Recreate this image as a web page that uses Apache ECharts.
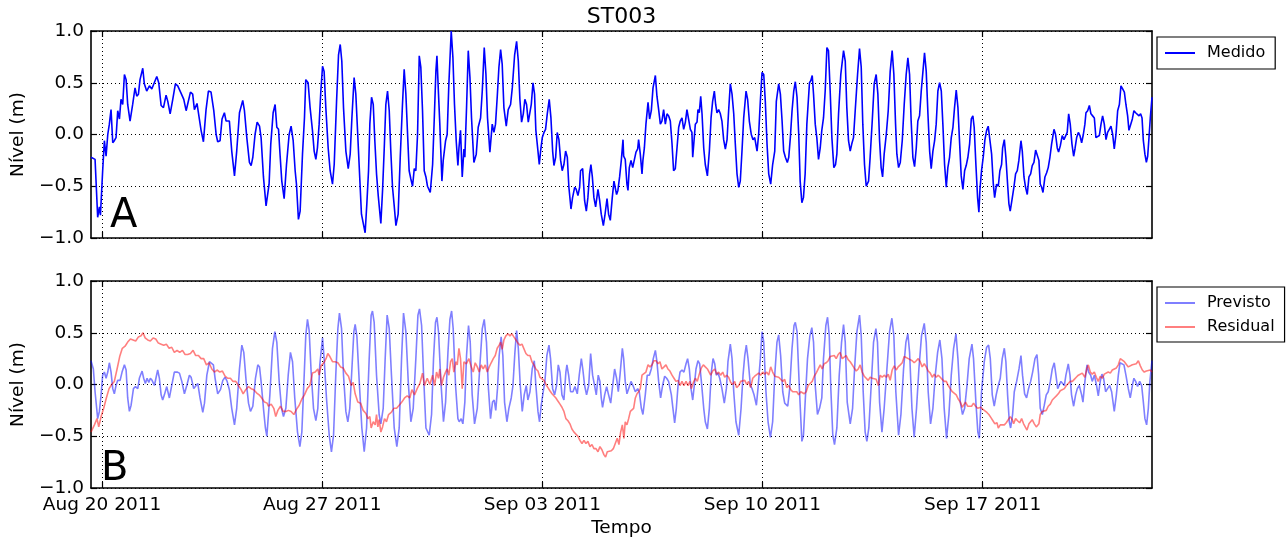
<!DOCTYPE html>
<html><head><meta charset="utf-8">
<script src="https://cdn.jsdelivr.net/npm/echarts@6/dist/echarts.min.js"></script>
<style>html,body{margin:0;padding:0;background:#fff}#c{width:1288px;height:542px}</style>
</head><body><div id="c"></div>
<script>
// time in hours from 2011-08-20 00:00
const xRange = [-8.4, 801.3];
const xTickHours = [0, 168, 336, 504, 672];
const xTickLabels = ['Aug 20 2011', 'Aug 27 2011', 'Sep 03 2011', 'Sep 10 2011', 'Sep 17 2011'];
const yTicks = [-1, -0.5, 0, 0.5, 1];

const medido = [[-8.4,-0.22],[-5.3,-0.24],[-3.3,-0.80],[-2.0,-0.70],[-1.2,-0.78],[0.5,-0.35],[1.8,-0.06],[3.1,-0.21],[4.4,0.00],[5.6,0.10],[6.9,0.24],[8.2,-0.08],[9.4,-0.06],[10.7,-0.03],[12.0,0.23],[13.3,0.15],[14.5,0.34],[15.8,0.29],[17.1,0.58],[18.4,0.53],[19.6,0.29],[21.4,0.13],[23.4,0.29],[25.2,0.45],[26.5,0.37],[27.8,0.39],[29.0,0.53],[31.1,0.64],[32.3,0.49],[34.1,0.42],[36.2,0.47],[38.0,0.44],[39.5,0.43],[41.8,0.56],[43.3,0.50],[45.1,0.28],[46.9,0.26],[48.9,0.38],[50.2,0.32],[52.0,0.20],[54.0,0.34],[56.0,0.49],[57.8,0.47],[60.3,0.40],[62.4,0.34],[64.2,0.23],[65.4,0.24],[67.5,0.41],[69.2,0.39],[70.5,0.24],[72.5,0.30],[73.8,0.31],[75.6,0.04],[77.4,-0.07],[79.4,0.24],[81.2,0.42],[83.2,0.41],[85.3,0.23],[87.1,0.00],[88.3,-0.07],[90.1,-0.06],[91.6,0.15],[93.4,0.21],[94.7,0.13],[96.0,0.12],[97.2,0.13],[99.0,-0.16],[101.1,-0.40],[102.8,-0.16],[104.9,0.21],[107.4,0.33],[108.7,0.23],[110.5,-0.03],[112.5,-0.27],[113.8,-0.30],[115.1,-0.22],[116.8,0.00],[118.4,0.12],[120.2,0.08],[121.4,-0.03],[123.2,-0.41],[125.2,-0.69],[126.3,-0.70],[127.5,-0.48],[128.8,-0.09],[130.6,0.21],[132.1,0.29],[133.4,0.07],[134.7,0.05],[135.7,-0.16],[137.2,-0.45],[139.0,-0.62],[140.8,-0.29],[142.8,0.00],[144.3,0.08],[145.9,-0.06],[147.4,-0.35],[148.4,-0.48],[149.9,-0.82],[151.2,-0.74],[153.0,-0.19],[154.5,0.16],[155.5,0.53],[157.3,0.50],[158.8,0.26],[160.6,0.04],[161.9,-0.16],[163.2,-0.24],[164.4,-0.13],[165.7,0.10],[167.0,0.42],[168.3,0.66],[169.5,0.61],[170.8,0.26],[172.6,-0.13],[174.1,-0.35],[175.9,-0.48],[177.2,-0.29],[179.0,0.32],[180.5,0.77],[181.8,0.87],[183.0,0.71],[184.3,0.26],[186.1,-0.16],[187.9,-0.33],[189.4,-0.19],[190.7,0.16],[192.4,0.55],[193.7,0.39],[195.0,0.04],[196.8,-0.45],[198.0,-0.77],[199.3,-0.78],[200.8,-0.95],[202.1,-0.67],[203.4,-0.35],[204.4,0.10],[205.7,0.36],[207.0,0.29],[208.2,-0.06],[209.5,-0.38],[210.8,-0.59],[211.5,-0.58],[212.8,-0.86],[214.1,-0.54],[215.4,-0.13],[216.6,0.29],[217.9,0.42],[219.2,0.23],[220.4,-0.16],[221.7,-0.51],[223.0,-0.69],[224.3,-0.88],[226.0,-0.77],[227.6,-0.22],[229.3,0.29],[230.6,0.63],[231.9,0.39],[233.2,0.00],[234.4,-0.35],[235.7,-0.43],[237.0,-0.50],[238.3,-0.33],[239.5,-0.35],[240.8,0.00],[242.1,0.76],[243.3,0.65],[244.6,0.23],[245.9,-0.35],[247.2,-0.41],[248.4,-0.50],[249.7,-0.51],[250.5,-0.56],[252.3,-0.29],[253.5,0.13],[254.8,0.61],[255.6,0.76],[256.8,0.39],[257.8,0.10],[259.4,-0.45],[260.4,-0.25],[262.2,-0.06],[263.4,0.00],[264.7,0.49],[266.5,1.00],[267.8,0.74],[269.0,0.29],[270.3,-0.06],[271.6,-0.30],[272.4,-0.13],[273.6,0.04],[274.9,-0.41],[276.2,-0.14],[276.9,-0.22],[278.2,0.26],[279.5,0.81],[280.8,0.55],[282.0,0.16],[283.8,-0.27],[285.6,-0.19],[287.1,0.07],[288.9,0.16],[290.2,0.42],[291.7,0.84],[293.0,0.58],[294.2,0.16],[296.0,-0.17],[297.8,0.10],[299.1,0.02],[300.3,0.10],[301.6,0.36],[302.9,0.65],[304.2,0.82],[305.4,0.68],[306.7,0.26],[308.5,0.08],[310.0,0.24],[311.8,0.29],[313.1,0.45],[314.9,0.77],[316.4,0.90],[317.7,0.71],[318.9,0.34],[320.2,0.12],[321.5,0.20],[322.7,0.34],[324.0,0.29],[325.3,0.12],[326.6,0.13],[327.6,0.29],[328.9,0.50],[330.1,0.39],[331.1,0.04],[332.7,-0.16],[333.7,-0.29],[334.7,-0.16],[336.0,-0.03],[337.3,0.02],[338.5,0.05],[339.8,0.20],[341.3,0.34],[342.6,0.16],[343.9,-0.16],[344.9,-0.30],[346.2,-0.22],[347.4,0.02],[348.7,-0.05],[350.0,-0.25],[351.2,-0.35],[352.5,-0.29],[353.8,-0.16],[355.1,-0.22],[356.3,-0.51],[357.9,-0.72],[359.1,-0.61],[360.7,-0.51],[361.9,-0.53],[363.2,-0.59],[364.5,-0.51],[365.2,-0.35],[366.8,-0.33],[368.3,-0.64],[369.6,-0.74],[370.8,-0.61],[372.1,-0.38],[373.1,-0.29],[374.2,-0.41],[375.4,-0.61],[376.7,-0.70],[378.5,-0.53],[379.8,-0.64],[381.0,-0.77],[382.6,-0.88],[383.8,-0.78],[385.4,-0.62],[386.6,-0.77],[387.9,-0.83],[389.4,-0.61],[390.7,-0.45],[391.7,-0.45],[392.7,-0.58],[393.7,-0.54],[395.0,-0.41],[396.3,-0.25],[397.6,-0.05],[398.1,-0.21],[399.3,-0.24],[400.6,-0.48],[401.4,-0.54],[402.4,-0.32],[403.7,-0.25],[405.0,-0.32],[406.2,-0.32],[407.5,-0.17],[408.8,-0.14],[409.5,-0.05],[410.8,-0.19],[412.1,-0.38],[412.8,-0.25],[413.9,-0.13],[415.1,0.10],[416.7,0.31],[417.9,0.15],[419.2,0.23],[420.5,0.45],[422.3,0.57],[423.5,0.37],[424.8,0.24],[426.1,0.10],[427.3,0.13],[428.6,0.24],[429.9,0.10],[431.2,0.20],[432.4,0.18],[433.7,0.13],[435.0,-0.09],[436.2,-0.35],[437.5,-0.33],[438.8,-0.13],[440.1,0.07],[441.3,0.13],[442.6,0.16],[443.9,0.05],[445.2,0.12],[446.4,0.24],[447.7,0.23],[449.0,0.05],[450.2,0.02],[450.8,-0.22],[451.8,-0.21],[452.8,0.10],[454.1,0.12],[454.8,0.24],[455.8,0.21],[456.9,0.37],[457.9,0.20],[459.2,-0.13],[460.4,-0.29],[462.0,-0.40],[463.5,-0.16],[464.8,0.16],[466.0,0.32],[467.3,0.42],[468.3,0.29],[469.3,0.21],[470.6,0.24],[471.9,0.20],[473.1,0.13],[474.4,-0.05],[475.7,-0.14],[477.0,-0.05],[478.2,0.23],[479.5,0.49],[480.8,0.39],[482.1,0.20],[483.3,-0.09],[484.6,-0.38],[485.9,-0.51],[487.1,-0.45],[488.4,-0.16],[489.7,0.16],[491.5,0.42],[492.7,0.34],[494.0,0.13],[495.5,0.00],[496.8,-0.05],[498.1,-0.03],[499.9,-0.16],[501.1,0.00],[502.4,0.32],[503.7,0.60],[505.0,0.58],[506.2,0.32],[507.5,-0.09],[508.8,-0.38],[510.3,-0.48],[511.8,-0.29],[513.4,-0.16],[514.6,0.32],[516.4,0.49],[517.7,0.39],[519.0,0.13],[520.2,-0.16],[521.5,-0.22],[523.0,-0.27],[524.1,-0.22],[525.3,-0.03],[526.6,0.23],[527.9,0.42],[529.1,0.51],[530.4,0.36],[531.7,0.00],[532.8,-0.45],[534.1,-0.66],[535.3,-0.61],[536.6,-0.38],[537.9,0.10],[539.9,0.50],[540.9,0.52],[542.0,0.57],[543.0,0.39],[544.3,0.10],[545.5,-0.03],[546.8,-0.24],[548.1,-0.13],[549.3,0.04],[550.6,0.16],[551.9,0.42],[553.2,0.84],[554.4,0.81],[555.7,0.42],[557.0,-0.03],[558.5,-0.32],[559.8,-0.29],[560.8,-0.19],[562.1,0.20],[563.8,0.58],[565.9,0.81],[567.2,0.71],[568.4,0.26],[569.7,-0.06],[571.0,-0.16],[572.2,-0.09],[573.5,-0.03],[574.8,0.23],[576.6,0.58],[578.1,0.83],[579.4,0.65],[580.6,0.10],[581.9,-0.29],[583.2,-0.50],[585.0,-0.45],[586.2,-0.22],[587.8,0.13],[589.3,0.49],[590.8,0.58],[592.1,0.39],[593.4,-0.06],[594.6,-0.32],[595.7,-0.41],[596.9,-0.19],[598.5,0.00],[600.0,0.23],[601.5,0.61],[603.0,0.81],[604.3,0.58],[605.6,0.10],[606.6,-0.19],[607.9,-0.32],[609.2,-0.27],[610.7,-0.06],[612.2,0.29],[613.7,0.58],[615.0,0.74],[616.3,0.58],[617.5,0.13],[618.8,-0.22],[620.1,-0.31],[621.4,-0.13],[622.6,0.13],[623.9,0.18],[625.2,0.42],[626.5,0.61],[627.7,0.79],[629.0,0.61],[630.3,0.20],[631.6,-0.16],[632.8,-0.33],[634.1,-0.16],[635.4,-0.06],[636.6,0.10],[637.9,0.42],[639.2,0.50],[640.5,0.42],[641.7,0.10],[643.0,-0.29],[644.3,-0.51],[645.5,-0.32],[646.8,-0.22],[648.1,-0.03],[649.4,0.07],[650.6,0.26],[651.9,0.43],[653.2,0.26],[654.5,-0.09],[655.7,-0.40],[657.0,-0.53],[658.3,-0.35],[659.5,-0.30],[660.8,-0.22],[662.1,-0.09],[663.4,0.15],[664.6,0.18],[665.6,0.07],[666.9,-0.29],[668.2,-0.61],[669.2,-0.75],[670.0,-0.53],[671.2,-0.35],[672.5,-0.22],[673.8,-0.05],[675.1,0.04],[676.3,0.08],[677.6,0.09],[678.9,-0.19],[680.2,-0.48],[681.2,-0.61],[682.7,-0.48],[684.0,-0.50],[685.2,-0.35],[686.5,-0.29],[687.3,-0.13],[688.6,-0.05],[689.8,-0.22],[691.1,-0.48],[692.1,-0.67],[693.1,-0.74],[694.7,-0.61],[695.9,-0.51],[697.2,-0.38],[698.5,-0.35],[699.7,-0.25],[701.3,-0.06],[702.3,-0.16],[703.6,-0.41],[704.8,-0.51],[706.1,-0.58],[707.4,-0.41],[708.7,-0.38],[709.9,-0.30],[711.2,-0.27],[712.5,-0.15],[713.7,-0.16],[715.0,-0.25],[716.0,-0.48],[717.1,-0.51],[718.1,-0.56],[719.6,-0.41],[720.9,-0.37],[722.1,-0.32],[723.4,-0.22],[724.7,-0.09],[726.5,0.05],[727.7,0.00],[729.0,-0.13],[730.0,-0.17],[731.3,-0.11],[732.8,-0.01],[734.1,-0.05],[735.6,-0.05],[736.6,0.02],[737.7,0.20],[738.9,0.10],[740.2,-0.09],[741.5,-0.21],[742.5,-0.14],[743.8,-0.03],[745.1,0.02],[746.3,-0.01],[747.6,-0.08],[748.9,0.00],[750.1,0.10],[750.9,0.21],[752.2,0.23],[753.5,0.28],[754.7,0.20],[756.0,0.18],[757.3,0.16],[758.5,-0.03],[759.8,-0.03],[761.1,-0.01],[762.4,0.10],[763.6,0.18],[764.9,0.10],[766.2,-0.05],[767.4,0.02],[768.7,0.05],[770.0,0.08],[771.3,0.00],[772.5,-0.14],[773.8,0.00],[775.1,0.23],[776.4,0.29],[777.6,0.47],[778.9,0.44],[780.2,0.41],[781.4,0.29],[782.7,0.18],[783.7,0.04],[785.0,0.03],[786.3,0.15],[787.5,0.23],[788.8,0.21],[790.1,0.21],[791.4,0.18],[792.6,0.20],[793.7,0.16],[794.7,-0.06],[795.9,-0.19],[797.0,-0.27],[798.0,-0.21],[799.0,-0.03],[800.0,0.16],[801.3,0.36]];

const previsto = [[-8.4,0.23],[-6.6,0.15],[-5.3,-0.07],[-3.3,-0.33],[-2.0,-0.26],[-0.7,-0.10],[0.5,0.09],[1.8,0.12],[3.1,0.06],[4.4,0.12],[5.6,0.21],[6.9,0.12],[8.2,-0.04],[9.4,-0.09],[10.7,-0.01],[12.0,0.04],[13.8,0.04],[15.3,0.12],[17.1,0.19],[18.4,0.14],[19.6,-0.13],[20.9,-0.26],[22.2,-0.20],[24.0,-0.04],[25.5,-0.02],[27.3,-0.04],[28.5,0.06],[30.6,0.13],[31.8,0.06],[33.1,0.01],[34.4,0.06],[35.7,0.02],[36.9,0.06],[38.2,0.04],[40.0,-0.01],[41.3,0.07],[42.5,0.14],[43.8,0.06],[45.1,-0.10],[46.3,-0.15],[47.6,-0.10],[49.4,-0.02],[51.4,-0.13],[53.2,-0.01],[55.2,0.12],[57.3,0.12],[59.1,0.11],[60.9,0.03],[62.9,-0.09],[64.7,-0.01],[66.7,0.09],[68.0,0.07],[70.0,-0.04],[71.8,-0.01],[73.1,0.01],[74.8,-0.13],[76.9,-0.27],[78.2,-0.18],[80.0,0.09],[82.0,0.22],[83.2,0.23],[85.0,0.19],[86.3,0.06],[88.3,-0.09],[90.4,-0.05],[92.2,0.04],[93.9,0.07],[95.5,0.03],[97.2,-0.05],[99.0,-0.23],[101.1,-0.39],[102.8,-0.23],[104.9,0.15],[106.7,0.38],[108.2,0.31],[110.0,0.03],[111.8,-0.18],[113.3,-0.26],[115.1,-0.21],[117.1,0.06],[118.9,0.19],[120.2,0.17],[121.4,0.03],[123.2,-0.23],[124.7,-0.42],[125.8,-0.50],[128.1,-0.10],[130.1,0.35],[131.9,0.51],[133.4,0.41],[135.2,0.03],[137.0,-0.23],[138.5,-0.31],[140.3,-0.23],[142.1,0.09],[143.8,0.31],[145.4,0.22],[147.1,-0.13],[149.2,-0.46],[151.0,-0.60],[152.5,-0.46],[154.3,0.09],[155.5,0.47],[156.8,0.63],[158.1,0.52],[159.6,0.12],[161.4,-0.23],[163.2,-0.35],[164.7,-0.23],[166.2,0.19],[168.3,0.45],[169.5,0.25],[171.3,-0.13],[173.4,-0.49],[175.1,-0.65],[176.7,-0.49],[178.4,0.09],[180.0,0.54],[181.2,0.69],[182.8,0.54],[184.3,0.09],[186.1,-0.26],[187.6,-0.36],[189.1,-0.23],[190.7,0.15],[192.2,0.51],[193.2,0.58],[194.5,0.47],[196.3,0.03],[198.3,-0.42],[200.1,-0.65],[201.9,-0.42],[203.9,0.25],[205.4,0.67],[206.4,0.71],[207.7,0.60],[209.5,0.09],[211.5,-0.29],[212.8,-0.38],[214.6,-0.23],[216.1,0.25],[217.6,0.67],[219.2,0.54],[220.9,0.09],[223.0,-0.42],[225.0,-0.60],[226.8,-0.42],[228.6,0.25],[230.1,0.69],[231.9,0.51],[233.7,0.03],[235.7,-0.36],[237.5,-0.23],[239.5,0.25],[241.1,0.67],[242.3,0.73],[243.9,0.57],[245.4,0.09],[247.2,-0.42],[249.7,-0.49],[251.5,-0.29],[253.0,0.25],[254.5,0.60],[255.6,0.65],[256.8,0.51],[258.6,0.03],[260.6,-0.36],[262.2,-0.17],[264.0,0.31],[265.5,0.63],[266.8,0.71],[268.0,0.54],[269.8,-0.01],[271.6,-0.33],[272.6,-0.36],[274.1,-0.33],[275.4,-0.38],[276.9,-0.17],[278.2,0.28],[279.7,0.57],[281.0,0.41],[282.5,-0.10],[284.3,-0.38],[286.4,-0.23],[288.2,0.15],[290.2,0.54],[291.7,0.63],[293.4,0.41],[294.9,-0.04],[296.5,-0.33],[298.0,-0.17],[299.3,-0.15],[300.5,-0.25],[301.8,-0.04],[303.1,0.28],[304.6,0.46],[305.9,0.28],[307.2,-0.17],[309.0,-0.36],[310.5,-0.23],[312.3,-0.13],[313.6,-0.01],[315.1,0.31],[316.4,0.52],[317.7,0.35],[319.2,-0.01],[320.7,-0.26],[322.2,-0.10],[323.8,-0.01],[325.0,-0.15],[326.6,-0.07],[328.3,0.15],[329.9,0.23],[331.1,-0.01],[332.7,-0.26],[333.9,-0.36],[335.2,-0.20],[336.7,-0.07],[338.0,0.03],[339.5,0.28],[341.1,0.38],[342.3,0.25],[343.9,-0.04],[345.4,-0.10],[346.9,-0.01],[348.2,0.19],[349.5,0.12],[351.0,-0.10],[352.5,-0.15],[354.0,0.12],[354.8,0.19],[356.1,0.09],[357.6,-0.07],[359.4,-0.07],[360.9,-0.02],[362.7,-0.09],[364.2,0.09],[365.8,0.25],[367.0,0.14],[368.3,-0.01],[369.8,-0.10],[371.4,-0.01],[372.9,0.30],[374.4,0.09],[375.9,-0.01],[377.2,-0.10],[378.7,0.09],[380.0,0.03],[381.0,-0.13],[382.0,-0.22],[383.6,-0.10],[385.1,-0.02],[386.6,-0.10],[388.2,-0.18],[389.7,-0.01],[391.2,0.15],[392.7,0.06],[394.0,-0.07],[395.3,0.09],[397.1,0.35],[398.1,0.25],[399.3,0.03],[400.6,-0.09],[401.9,-0.04],[403.7,0.03],[405.2,-0.01],[407.0,-0.07],[408.8,-0.04],[410.0,-0.07],[411.6,-0.23],[412.8,-0.29],[414.6,-0.10],[416.1,0.09],[417.7,0.09],[419.2,0.15],[420.7,0.25],[422.3,0.33],[423.5,0.22],[424.8,0.03],[426.3,-0.13],[427.8,-0.01],[429.4,0.08],[430.9,0.06],[432.4,0.03],[434.5,-0.10],[435.7,-0.23],[437.0,-0.37],[438.3,-0.23],[439.6,-0.01],[441.1,0.12],[442.6,0.14],[444.1,0.12],[445.7,0.20],[446.9,0.25],[448.2,0.15],[449.5,-0.04],[450.8,-0.15],[452.0,-0.01],[453.3,0.15],[454.8,0.23],[456.1,0.20],[457.4,0.03],[459.2,-0.23],[460.4,-0.36],[462.0,-0.43],[463.5,-0.23],[465.0,0.12],[466.3,0.25],[467.6,0.20],[468.8,0.09],[470.1,0.11],[471.4,0.06],[473.1,-0.04],[474.9,-0.18],[476.5,-0.04],[477.7,0.22],[479.5,0.39],[480.8,0.25],[482.1,-0.07],[483.8,-0.36],[485.9,-0.49],[487.7,-0.23],[489.2,0.09],[490.5,0.28],[491.7,0.38],[493.0,0.25],[494.8,-0.01],[496.1,-0.04],[497.6,-0.10],[499.4,-0.20],[500.6,-0.04],[502.4,0.25],[503.7,0.51],[505.0,0.41],[506.7,-0.07],[508.3,-0.36],[510.1,-0.51],[511.8,-0.36],[513.4,0.09],[515.1,0.41],[516.4,0.48],[517.9,0.28],[519.5,-0.07],[521.0,-0.18],[523.3,-0.21],[524.8,-0.04],[526.6,0.35],[528.1,0.57],[529.1,0.60],[530.4,0.51],[532.2,-0.04],[534.1,-0.55],[535.3,-0.49],[536.6,-0.17],[538.4,0.25],[540.2,0.47],[541.7,0.55],[543.0,0.41],[544.3,-0.01],[546.0,-0.29],[547.6,-0.23],[549.3,-0.13],[550.6,0.25],[552.4,0.57],[553.7,0.65],[555.0,0.47],[556.2,-0.04],[557.7,-0.49],[559.0,-0.58],[560.8,-0.42],[562.6,0.09],[564.4,0.41],[565.9,0.58],[567.2,0.41],[568.7,-0.17],[571.0,-0.38],[572.8,-0.23],[574.3,0.15],[576.1,0.51],[578.1,0.67],[579.4,0.47],[580.9,-0.07],[582.4,-0.46],[583.7,-0.55],[585.2,-0.42],[587.0,-0.01],[588.8,0.41],[590.6,0.54],[591.8,0.41],[593.4,-0.17],[595.2,-0.46],[596.9,-0.23],[599.0,0.15],[601.0,0.51],[602.8,0.64],[604.3,0.47],[605.8,-0.07],[607.9,-0.49],[609.7,-0.29],[611.7,0.15],[613.5,0.41],[615.0,0.49],[616.3,0.31],[618.1,-0.23],[619.8,-0.51],[621.6,-0.23],[623.4,0.15],[625.4,0.47],[627.5,0.59],[629.0,0.41],[630.5,-0.07],[632.3,-0.38],[634.1,-0.23],[635.9,0.09],[637.7,0.31],[639.4,0.43],[641.0,0.25],[642.7,-0.23],[644.5,-0.52],[646.3,-0.29],[648.1,0.09],[649.9,0.35],[651.7,0.49],[653.2,0.25],[655.0,-0.17],[656.7,-0.29],[658.3,-0.23],[660.1,-0.01],[661.8,0.25],[663.9,0.39],[665.1,0.25],[666.9,-0.17],[668.4,-0.46],[669.5,-0.52],[671.2,-0.07],[673.3,0.22],[675.1,0.36],[676.6,0.38],[677.9,0.25],[679.4,-0.10],[680.9,-0.21],[682.4,-0.10],[684.0,-0.01],[685.5,0.06],[687.0,0.25],[688.6,0.35],[689.8,0.22],[691.1,-0.10],[692.4,-0.36],[693.4,-0.42],[694.9,-0.29],[696.2,-0.07],[698.0,0.03],[699.8,0.15],[701.3,0.28],[702.5,0.09],[704.1,-0.09],[705.6,-0.13],[707.1,-0.04],[708.7,0.03],[710.2,0.12],[712.0,0.25],[713.5,0.29],[714.8,0.09],[716.0,-0.23],[717.6,-0.29],[719.1,-0.20],[720.6,-0.10],[722.1,-0.07],[723.7,0.03],[725.2,0.15],[726.7,0.21],[728.0,0.09],[729.3,-0.04],[730.5,-0.04],[731.8,0.03],[733.1,0.03],[734.4,-0.01],[735.6,0.09],[737.4,0.20],[738.7,0.09],[739.9,-0.10],[741.5,-0.21],[743.0,-0.10],[744.3,-0.04],[745.8,-0.01],[747.6,-0.10],[748.6,-0.17],[750.1,0.03],[751.7,0.19],[752.9,0.12],[754.5,0.09],[755.7,0.03],[757.3,0.09],[759.0,-0.01],[760.3,-0.11],[761.8,0.03],[763.1,0.10],[764.4,0.06],[765.9,-0.07],[767.4,-0.04],[769.0,-0.01],[770.5,-0.07],[772.5,-0.26],[774.1,-0.10],[775.6,0.09],[776.9,0.21],[778.1,0.20],[779.9,0.19],[781.4,0.09],[783.2,-0.04],[784.7,-0.13],[786.3,-0.01],[787.5,0.06],[788.8,0.03],[790.3,-0.02],[791.9,0.03],[793.4,-0.01],[794.7,-0.17],[795.9,-0.33],[797.2,-0.39],[798.5,-0.23],[799.7,0.03],[801.3,0.23]];

const residual = [[-8.4,-0.46],[-5.8,-0.39],[-3.8,-0.33],[-2.5,-0.41],[-0.7,-0.31],[1.3,-0.23],[3.3,-0.13],[5.4,-0.04],[7.4,0.00],[9.4,0.03],[11.5,0.15],[13.5,0.27],[15.5,0.35],[17.6,0.37],[19.6,0.41],[21.7,0.44],[23.7,0.43],[25.7,0.42],[27.8,0.46],[29.8,0.47],[31.3,0.50],[32.9,0.45],[34.9,0.43],[36.9,0.42],[39.0,0.45],[41.0,0.44],[43.0,0.40],[45.1,0.39],[47.1,0.38],[49.1,0.39],[51.2,0.35],[53.2,0.36],[55.2,0.31],[57.3,0.33],[59.3,0.31],[61.4,0.33],[63.4,0.29],[65.4,0.29],[67.5,0.30],[69.5,0.33],[71.5,0.28],[73.6,0.28],[75.6,0.25],[77.6,0.25],[79.7,0.19],[81.7,0.21],[83.8,0.15],[85.8,0.12],[87.8,0.14],[89.9,0.12],[91.9,0.13],[93.9,0.08],[96.0,0.06],[98.0,0.06],[100.0,0.03],[102.1,0.03],[104.1,-0.01],[106.2,-0.05],[107.7,-0.09],[109.7,-0.05],[111.8,-0.02],[113.8,-0.04],[115.8,-0.05],[117.9,-0.08],[119.9,-0.10],[121.9,-0.13],[124.0,-0.17],[126.0,-0.18],[127.0,-0.21],[129.1,-0.19],[131.1,-0.23],[132.6,-0.31],[134.2,-0.25],[136.2,-0.21],[138.2,-0.26],[140.3,-0.26],[142.3,-0.25],[144.3,-0.26],[146.4,-0.29],[148.4,-0.24],[150.5,-0.20],[152.5,-0.14],[154.5,-0.10],[156.6,-0.04],[158.6,-0.01],[160.6,0.11],[162.7,0.12],[164.7,0.15],[165.7,0.09],[167.2,0.18],[169.3,0.21],[171.3,0.26],[172.3,0.30],[173.9,0.27],[175.9,0.22],[177.9,0.22],[180.0,0.21],[182.0,0.17],[184.0,0.16],[186.1,0.11],[188.1,0.08],[190.2,-0.01],[191.7,0.02],[193.2,-0.09],[195.2,-0.17],[197.3,-0.18],[199.3,-0.25],[201.4,-0.28],[202.9,-0.33],[204.4,-0.31],[205.4,-0.42],[207.0,-0.36],[208.5,-0.39],[209.5,-0.29],[210.5,-0.41],[211.5,-0.34],[212.8,-0.46],[214.1,-0.41],[215.6,-0.33],[217.1,-0.36],[218.7,-0.29],[220.7,-0.27],[222.7,-0.23],[224.8,-0.23],[226.8,-0.20],[228.8,-0.17],[230.9,-0.13],[232.9,-0.11],[234.9,-0.13],[236.5,-0.05],[238.5,-0.10],[240.5,-0.04],[242.6,0.01],[244.6,0.11],[246.1,-0.01],[248.2,0.06],[250.2,0.00],[252.3,0.09],[253.8,-0.01],[255.3,0.12],[256.8,0.06],[257.8,0.15],[259.1,-0.01],[260.6,0.07],[262.2,0.12],[263.4,0.15],[264.7,0.09],[266.0,0.22],[267.3,0.25],[268.5,0.12],[270.1,0.22],[271.1,0.19],[272.4,0.35],[273.6,0.25],[274.9,-0.04],[276.2,0.22],[278.0,0.20],[280.0,0.25],[281.8,0.17],[283.3,0.12],[284.8,0.21],[286.4,0.17],[287.9,0.12],[289.4,0.19],[290.9,0.15],[292.5,0.19],[294.0,0.12],[295.5,0.17],[297.0,0.21],[298.6,0.25],[300.1,0.28],[301.6,0.35],[303.1,0.38],[304.2,0.41],[305.4,0.34],[306.7,0.43],[308.2,0.47],[309.8,0.49],[311.3,0.47],[312.8,0.49],[314.3,0.46],[315.9,0.43],[317.4,0.40],[318.9,0.38],[320.5,0.39],[322.0,0.38],[323.5,0.30],[325.0,0.28],[326.6,0.28],[328.1,0.22],[329.6,0.19],[331.1,0.15],[332.7,0.13],[334.2,0.07],[335.7,0.07],[337.3,0.04],[338.8,0.00],[340.3,-0.03],[341.8,-0.06],[343.4,-0.09],[344.9,-0.09],[346.4,-0.13],[347.9,-0.16],[349.5,-0.19],[351.0,-0.22],[352.5,-0.26],[354.0,-0.33],[355.6,-0.35],[357.1,-0.38],[358.6,-0.43],[360.2,-0.46],[361.7,-0.46],[363.2,-0.50],[364.7,-0.54],[366.3,-0.57],[367.8,-0.54],[369.3,-0.57],[370.8,-0.55],[372.4,-0.60],[373.9,-0.58],[375.4,-0.62],[377.0,-0.62],[378.5,-0.65],[380.0,-0.60],[381.5,-0.63],[383.1,-0.68],[384.3,-0.70],[385.6,-0.65],[387.1,-0.66],[388.7,-0.64],[390.2,-0.62],[391.7,-0.57],[393.2,-0.52],[394.5,-0.58],[395.8,-0.46],[397.1,-0.39],[398.3,-0.52],[399.3,-0.36],[400.6,-0.39],[401.9,-0.33],[403.2,-0.26],[404.4,-0.26],[405.7,-0.23],[407.0,-0.13],[408.3,-0.09],[409.5,-0.07],[410.8,-0.04],[412.1,0.09],[413.6,0.09],[415.1,0.12],[416.7,0.19],[418.2,0.17],[419.7,0.19],[421.2,0.23],[422.8,0.23],[424.3,0.20],[425.8,0.22],[427.3,0.15],[428.9,0.17],[430.4,0.19],[431.9,0.15],[433.4,0.13],[435.0,0.09],[436.5,0.06],[438.0,0.03],[439.6,0.04],[441.1,-0.01],[442.6,0.03],[444.1,-0.01],[445.7,0.03],[447.2,-0.01],[448.7,0.03],[449.7,-0.04],[451.3,0.02],[452.8,0.06],[454.3,0.03],[455.8,0.10],[457.4,0.16],[458.9,0.19],[460.4,0.17],[462.0,0.15],[463.5,0.15],[464.5,0.09],[466.0,0.13],[467.6,0.15],[469.1,0.10],[470.6,0.12],[472.1,0.09],[473.7,0.12],[475.2,0.07],[476.7,0.09],[478.2,0.07],[479.8,0.02],[481.3,0.00],[482.8,0.03],[484.3,-0.03],[485.9,-0.01],[487.4,0.03],[488.9,0.03],[490.5,0.04],[492.0,0.00],[493.5,0.03],[495.0,-0.03],[496.6,0.06],[498.1,0.08],[499.6,0.07],[501.1,0.11],[502.7,0.09],[504.2,0.12],[505.7,0.10],[507.3,0.12],[508.8,0.09],[510.3,0.17],[511.8,0.12],[513.4,0.08],[514.9,0.09],[516.4,0.07],[517.9,0.06],[519.5,0.03],[521.0,0.05],[522.5,-0.03],[524.1,-0.01],[525.6,-0.05],[527.1,-0.07],[528.6,-0.08],[530.2,-0.07],[531.7,-0.10],[533.2,-0.07],[535.9,-0.09],[537.4,-0.07],[538.9,-0.01],[540.4,0.01],[542.0,0.03],[543.5,0.08],[545.0,0.11],[546.5,0.12],[548.1,0.19],[549.6,0.15],[551.1,0.20],[552.7,0.21],[554.2,0.23],[555.7,0.27],[557.2,0.27],[558.8,0.28],[560.3,0.25],[561.8,0.29],[563.3,0.31],[564.9,0.25],[566.4,0.26],[567.9,0.28],[569.4,0.24],[571.0,0.22],[572.5,0.21],[574.0,0.16],[575.6,0.13],[577.1,0.15],[578.6,0.19],[580.1,0.12],[581.7,0.08],[583.2,0.06],[584.7,0.04],[586.2,0.07],[587.8,0.06],[589.3,0.06],[590.8,0.05],[592.4,-0.01],[593.9,0.09],[595.4,0.07],[596.9,0.09],[598.5,0.07],[600.0,0.10],[601.5,0.04],[603.0,0.14],[604.6,0.18],[606.1,0.14],[607.6,0.17],[609.2,0.19],[610.7,0.21],[612.2,0.27],[613.7,0.28],[615.3,0.25],[616.8,0.25],[618.3,0.23],[619.8,0.21],[621.4,0.23],[622.9,0.25],[624.4,0.22],[625.9,0.17],[627.5,0.20],[629.0,0.17],[630.5,0.13],[632.1,0.11],[633.6,0.07],[635.1,0.10],[636.6,0.07],[638.2,0.09],[639.7,0.07],[641.2,0.05],[642.7,0.03],[644.3,0.03],[645.8,-0.01],[647.3,-0.04],[648.9,-0.07],[650.4,-0.06],[651.9,-0.10],[653.4,-0.14],[655.0,-0.17],[656.5,-0.22],[658.0,-0.22],[659.0,-0.17],[660.6,-0.21],[662.1,-0.21],[663.6,-0.21],[665.1,-0.18],[666.7,-0.21],[668.2,-0.23],[669.7,-0.22],[670.7,-0.22],[672.3,-0.24],[673.8,-0.25],[675.3,-0.27],[676.8,-0.29],[678.4,-0.32],[679.9,-0.35],[681.4,-0.38],[683.0,-0.37],[684.0,-0.42],[685.5,-0.39],[687.0,-0.38],[688.6,-0.39],[690.1,-0.37],[691.6,-0.36],[693.1,-0.31],[694.7,-0.34],[695.7,-0.38],[697.2,-0.33],[698.7,-0.35],[700.3,-0.37],[701.8,-0.33],[703.3,-0.38],[704.8,-0.38],[705.9,-0.44],[707.4,-0.38],[708.9,-0.38],[709.9,-0.34],[711.5,-0.38],[713.0,-0.41],[714.0,-0.42],[715.0,-0.38],[716.0,-0.29],[717.6,-0.26],[719.1,-0.27],[720.6,-0.25],[722.1,-0.21],[723.7,-0.19],[725.2,-0.15],[726.7,-0.13],[728.3,-0.11],[729.8,-0.09],[731.3,-0.06],[732.8,-0.05],[734.4,-0.04],[735.9,-0.01],[737.4,0.01],[738.9,0.03],[740.5,0.03],[742.0,0.05],[743.5,0.07],[745.1,0.09],[746.6,0.09],[748.1,0.11],[749.1,0.12],[750.1,0.07],[751.7,0.16],[752.7,0.19],[754.2,0.12],[755.7,0.10],[757.3,0.12],[758.8,0.07],[760.3,0.03],[761.8,0.08],[763.4,0.06],[764.9,0.10],[766.4,0.09],[767.9,0.12],[769.5,0.11],[771.0,0.14],[772.5,0.15],[774.1,0.16],[775.6,0.19],[777.1,0.25],[778.6,0.26],[780.2,0.22],[781.7,0.21],[783.2,0.17],[784.7,0.17],[786.3,0.19],[787.8,0.18],[789.3,0.20],[790.9,0.23],[792.4,0.18],[793.9,0.14],[795.4,0.12],[797.0,0.13],[798.5,0.12],[800.0,0.14],[801.3,0.12]];

const FONT = 'DejaVu Sans';
const GRID_LINE = {color: '#000', width: 1, type: [1, 3]};
const chart = echarts.init(document.getElementById('c'), null, {renderer: 'canvas'});

function xAx(g, pos, labels, name) {
  return {
    type: 'value', gridIndex: g, position: pos, min: xRange[0], max: xRange[1],
    name: name || '', nameLocation: 'middle', nameGap: 31,
    nameTextStyle: {fontFamily: FONT, fontSize: 18.5, color: '#000'},
    axisLine: {show: true, onZero: false, lineStyle: {color: '#000', width: 1.6}},
    axisTick: {show: true, inside: true, length: 6, customValues: xTickHours, lineStyle: {color: '#000', width: 1.2}},
    axisLabel: {show: labels, customValues: xTickHours, margin: 8,
      formatter: v => xTickLabels[xTickHours.indexOf(v)] || '',
      fontFamily: FONT, fontSize: 18.5, color: '#000'},
    splitLine: {show: pos === 'bottom', lineStyle: GRID_LINE}
  };
}
function yAx(g, pos, labels) {
  return {
    type: 'value', gridIndex: g, position: pos, min: yTicks[0], max: yTicks[yTicks.length - 1], interval: 0.5,
    name: labels ? 'Nível (m)' : '', nameLocation: 'middle', nameGap: 54,
    nameTextStyle: {fontFamily: FONT, fontSize: 18.5, color: '#000'},
    axisLine: {show: true, onZero: false, lineStyle: {color: '#000', width: 1.6}},
    axisTick: {show: true, inside: true, length: 6, lineStyle: {color: '#000', width: 1.2}},
    axisLabel: {show: labels, margin: 7, fontFamily: FONT, fontSize: 18.5, color: '#000',
      formatter: v => (v < 0 ? '\u2212' : '') + Math.abs(v).toFixed(1)},
    splitLine: {show: pos === 'left', lineStyle: GRID_LINE}
  };
}
const legendBase = {
  orient: 'vertical', selectedMode: false, backgroundColor: '#fff',
  borderColor: '#000', borderWidth: 1.2, borderRadius: 0,
  icon: 'rect', itemWidth: 30, itemHeight: 2, itemGap: 8,
  lineStyle: {width: 0}, itemStyle: {borderWidth: 0},
  textStyle: {fontFamily: FONT, fontSize: 16, color: '#000', padding: [0, 0, 0, 7]}
};

chart.setOption({
  animation: false,
  backgroundColor: '#fff',
  grid: [
    {left: 91, top: 31, width: 1061, height: 207},
    {left: 91, top: 281, width: 1061, height: 207}
  ],
  xAxis: [xAx(0, 'bottom', false), xAx(0, 'top', false), xAx(1, 'bottom', true, 'Tempo'), xAx(1, 'top', false)],
  yAxis: [yAx(0, 'left', true), yAx(0, 'right', false), yAx(1, 'left', true), yAx(1, 'right', false)],
  legend: [
    Object.assign({}, legendBase, {data: ['Medido'], left: 1157, top: 37, padding: [8, 10, 8, 8]}),
    Object.assign({}, legendBase, {data: ['Previsto', 'Residual'], left: 1157, top: 287, padding: [8, 10, 7, 8]})
  ],
  series: [
    {name: 'Medido', type: 'line', xAxisIndex: 0, yAxisIndex: 0, data: medido, symbol: 'none', color: '#0000ff',
      lineStyle: {color: '#0000ff', width: 1.6}},
    {name: 'Previsto', type: 'line', xAxisIndex: 2, yAxisIndex: 2, data: previsto, symbol: 'none', color: 'rgba(0,0,255,0.5)',
      lineStyle: {color: 'rgba(0,0,255,0.5)', width: 1.6}},
    {name: 'Residual', type: 'line', xAxisIndex: 2, yAxisIndex: 2, data: residual, symbol: 'none', color: 'rgba(255,0,0,0.5)',
      lineStyle: {color: 'rgba(255,0,0,0.5)', width: 1.6}}
  ],
  graphic: [
    {type: 'text', x: 621.5, y: 17, style: {text: 'ST003', fontFamily: FONT, fontSize: 22, fill: '#000', align: 'center', verticalAlign: 'middle'}},
    {type: 'text', x: 110, y: 216.5, z: 100, style: {text: 'A', fontFamily: FONT, fontSize: 40, fill: '#000', align: 'left', verticalAlign: 'middle'}},
    {type: 'text', x: 101, y: 470, z: 100, style: {text: 'B', fontFamily: FONT, fontSize: 40, fill: '#000', align: 'left', verticalAlign: 'middle'}}
  ]
});
</script>
</body></html>
